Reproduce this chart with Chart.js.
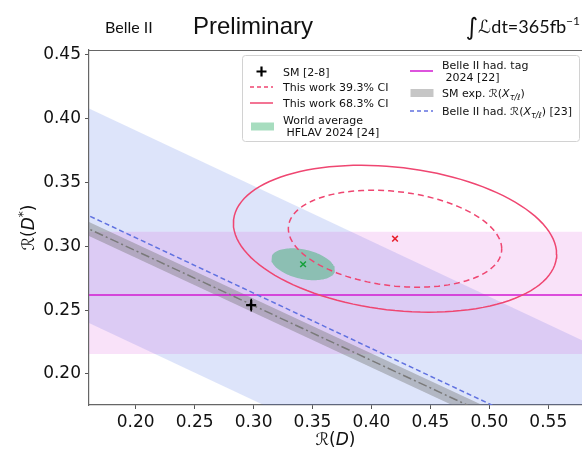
<!DOCTYPE html>
<html>
<head>
<meta charset="utf-8">
<script src="https://cdn.jsdelivr.net/npm/chart.js@4.4.1/dist/chart.umd.min.js"></script>
<style>
  html, body { margin: 0; padding: 0; background: #fff; }
  #wrap { width: 582px; height: 450px; }
</style>
</head>
<body>
<div id="wrap"><canvas id="plot" width="582" height="450"></canvas></div>
<script>
/* ===============================
   DATA
=============================== */
const xLimits = [0.1604, 0.5786];
const yLimits = [0.1757, 0.4539];
const xTicks = [0.20, 0.25, 0.30, 0.35, 0.40, 0.45, 0.50, 0.55];
const yTicks = [0.20, 0.25, 0.30, 0.35, 0.40, 0.45];

// SM prediction (R(D), R(D*)) and its errors
const smPoint = [0.298, 0.254];
const smError = [0.004, 0.005];

// this measurement: centre, sigmas, correlation
const thisWork = [0.420, 0.306];
const thisWorkSigma = [0.0905, 0.038];
const thisWorkRho = -0.21;

// HFLAV 2024 world average
const worldAvg = [0.342, 0.286];
const worldAvgSigma = [0.027, 0.0125];
const worldAvgRho = -0.35;

// Belle II hadronic tag R(D*) with its band
const hadTag = 0.262;
const hadTagBand = [0.2157, 0.3115];

// straight lines in the plane, given at two R(D) values
const lineX = [0.10, 0.60];
const smExpLine = [0.3396, 0.1246];
const smExpHalfWidth = 0.0055;
const rxLine = [0.3502, 0.1332];
const rxHalfWidth = 0.084;

// ellipse scale factors for 39.3% and 68.3% two-dimensional regions
const k393 = 1.0;
const k683 = 1.515;

/* ===============================
   COLOURS
=============================== */
const C = {
  rxBand: 'rgba(65,105,225,0.18)',
  tagBand: 'rgba(214,60,214,0.15)',
  smBand: 'rgba(120,120,120,0.42)',
  smLine: '#7a7a7a',
  rxLine: '#6172e0',
  tagLine: '#d21ad2',
  red: '#ef4671',
  redMark: '#e8202e',
  green: 'rgba(60,179,113,0.5)',
  greenMark: '#15a03a'
};

/* ===============================
   HELPERS
=============================== */
const ellipse = (c, s, rho, k) => {
  const pts = [];
  const r = Math.sqrt(1 - rho * rho);
  for (let i = 0; i <= 120; i++) {
    const t = (i / 120) * 2 * Math.PI;
    const u = Math.cos(t), v = Math.sin(t);
    pts.push({ x: c[0] + k * s[0] * u, y: c[1] + k * s[1] * (rho * u + r * v) });
  }
  return pts;
};

const twoPoints = (ys, shift = 0) => lineX.map((x, i) => ({ x, y: ys[i] + shift }));
const flat = (y) => lineX.map(x => ({ x, y }));

const line = (data, opts) => Object.assign({
  type: 'scatter', data, showLine: true, pointRadius: 0, borderWidth: 1.5,
  tension: 0, fill: false, borderColor: '#000'
}, opts);

/* ===============================
   DATASETS
=============================== */
const datasets = [
  // bands (behind everything)
  line(twoPoints(rxLine, rxHalfWidth), { borderWidth: 0, fill: '+1', backgroundColor: C.rxBand, order: 20 }),
  line(twoPoints(rxLine, -rxHalfWidth), { borderWidth: 0, order: 20 }),
  line(flat(hadTagBand[1]), { borderWidth: 0, fill: '+1', backgroundColor: C.tagBand, order: 19 }),
  line(flat(hadTagBand[0]), { borderWidth: 0, order: 19 }),
  line(twoPoints(smExpLine, smExpHalfWidth), { borderWidth: 0, fill: '+1', backgroundColor: C.smBand, order: 18 }),
  line(twoPoints(smExpLine, -smExpHalfWidth), { borderWidth: 0, order: 18 }),
  // lines
  line(twoPoints(smExpLine), { borderColor: C.smLine, borderDash: [9, 3, 2, 3], order: 8 }),
  line(twoPoints(rxLine), { borderColor: C.rxLine, borderDash: [5, 3], order: 8 }),
  line(flat(hadTag), { borderColor: C.tagLine, order: 8 }),
  // world average region
  line(ellipse(worldAvg, worldAvgSigma, worldAvgRho, k393), { borderWidth: 0, fill: 'shape', backgroundColor: C.green, order: 7 }),
  // this work
  line(ellipse(thisWork, thisWorkSigma, thisWorkRho, k393), { borderColor: C.red, borderDash: [6, 4], order: 4 }),
  line(ellipse(thisWork, thisWorkSigma, thisWorkRho, k683), { borderColor: C.red, order: 4 }),
  // centres
  { type: 'scatter', data: [{ x: worldAvg[0], y: worldAvg[1] }], pointStyle: 'crossRot', pointRadius: 4,
    borderColor: C.greenMark, borderWidth: 1.5, order: 2 },
  { type: 'scatter', data: [{ x: thisWork[0], y: thisWork[1] }], pointStyle: 'crossRot', pointRadius: 4,
    borderColor: C.redMark, borderWidth: 1.5, order: 2 },
  // SM point with error bars
  line([{ x: smPoint[0] - smError[0], y: smPoint[1] }, { x: smPoint[0] + smError[0], y: smPoint[1] }], { borderColor: '#000', borderWidth: 1.5, order: 1 }),
  line([{ x: smPoint[0], y: smPoint[1] - smError[1] }, { x: smPoint[0], y: smPoint[1] + smError[1] }], { borderColor: '#000', borderWidth: 1.5, order: 1 }),
  { type: 'scatter', data: [{ x: smPoint[0], y: smPoint[1] }], pointStyle: 'cross', pointRadius: 5,
    borderColor: '#000', borderWidth: 2.2, order: 1 }
];

/* ===============================
   TEXT HELPERS
=============================== */
const FONT = '"DejaVu Sans", "Noto Sans", sans-serif';

function rich(ctx, x, y, parts) {
  let cx = x;
  for (const p of parts) {
    ctx.font = p.f;
    ctx.fillText(p.t, cx, y + (p.dy || 0));
    cx += ctx.measureText(p.t).width;
  }
  return cx;
}

function richWidth(ctx, parts) {
  let w = 0;
  for (const p of parts) { ctx.font = p.f; w += ctx.measureText(p.t).width; }
  return w;
}

/* ===============================
   DECORATION PLUGIN
=============================== */
const decorations = {
  id: 'decorations',
  afterDraw(chart) {
    const { ctx, chartArea: a } = chart;
    ctx.save();

    // top spine
    ctx.strokeStyle = '#666';
    ctx.lineWidth = 1.2;
    ctx.beginPath();
    ctx.moveTo(a.left, a.top + 0.5);
    ctx.lineTo(a.right, a.top + 0.5);
    ctx.stroke();

    ctx.fillStyle = '#111';
    ctx.textBaseline = 'alphabetic';
    ctx.textAlign = 'left';

    // header
    ctx.font = '16px Lato, ' + FONT;
    ctx.fillText('Belle II', 105, 33);
    ctx.font = '24px "Liberation Sans", Arial, sans-serif';
    ctx.fillText('Preliminary', 313 - ctx.measureText('Preliminary').width, 34);

    const lumi = [
      { t: '\u222B', f: '24px ' + FONT, dy: 2 },
      { t: '\u2112', f: 'italic 18px ' + FONT },
      { t: 'dt=365fb', f: '18px Lato, ' + FONT },
      { t: '\u22121', f: '12px Lato, ' + FONT, dy: -8 }
    ];
    rich(ctx, 580 - richWidth(ctx, lumi), 33, lumi);

    // axis titles
    const xTitle = [
      { t: '\u211B(', f: '17px ' + FONT },
      { t: 'D', f: 'italic 17px ' + FONT },
      { t: ')', f: '17px ' + FONT }
    ];
    const xc = (a.left + a.right) / 2;
    rich(ctx, xc - richWidth(ctx, xTitle) / 2, 445, xTitle);

    const yTitle = [
      { t: '\u211B(', f: '17px ' + FONT },
      { t: 'D', f: 'italic 17px ' + FONT },
      { t: '*', f: '12px ' + FONT, dy: -7 },
      { t: ')', f: '17px ' + FONT }
    ];
    ctx.save();
    ctx.translate(34, (a.top + a.bottom) / 2);
    ctx.rotate(-Math.PI / 2);
    rich(ctx, -richWidth(ctx, yTitle) / 2, 0, yTitle);
    ctx.restore();

    // legend box
    ctx.fillStyle = 'rgba(255,255,255,0.85)';
    ctx.strokeStyle = '#d2d2d2';
    ctx.lineWidth = 1;
    ctx.beginPath();
    ctx.roundRect(242.5, 55.5, 337, 86, 3);
    ctx.fill();
    ctx.stroke();

    const LF = '11px ' + FONT;
    const LI = 'italic 11px ' + FONT;
    const LS = 'italic 8px ' + FONT;
    const seg = (x1, x2, y, color, dash) => {
      ctx.strokeStyle = color;
      ctx.lineWidth = 1.5;
      ctx.setLineDash(dash || []);
      ctx.beginPath();
      ctx.moveTo(x1, y);
      ctx.lineTo(x2, y);
      ctx.stroke();
      ctx.setLineDash([]);
    };
    const txt = (s, x, y) => { ctx.fillStyle = '#111'; ctx.font = LF; ctx.fillText(s, x, y + 4); };

    // left column
    ctx.strokeStyle = '#000';
    ctx.lineWidth = 2.2;
    ctx.beginPath();
    ctx.moveTo(256.5, 71.5); ctx.lineTo(266.5, 71.5);
    ctx.moveTo(261.5, 66.5); ctx.lineTo(261.5, 76.5);
    ctx.stroke();
    txt('SM [2-8]', 283, 71.5);

    seg(250, 273, 87, C.red, [4, 3]);
    txt('This work 39.3% CI', 283, 87);
    seg(250, 273, 103, C.red);
    txt('This work 68.3% CI', 283, 103);

    ctx.fillStyle = 'rgba(60,179,113,0.45)';
    ctx.fillRect(251, 122.5, 23, 8);
    txt('World average', 283, 120);
    txt(' HFLAV 2024 [24]', 283, 131.5);

    // right column
    seg(410, 433, 71, C.tagLine);
    txt('Belle II had. tag', 442, 65);
    txt(' 2024 [22]', 442, 76.5);

    ctx.fillStyle = 'rgba(120,120,120,0.42)';
    ctx.fillRect(410.5, 89, 23, 8);
    ctx.fillStyle = '#111';
    rich(ctx, 442, 97, [
      { t: 'SM exp. \u211B(', f: LF },
      { t: 'X', f: LI },
      { t: '\u03C4/\u2113', f: LS, dy: 2.5 },
      { t: ')', f: LF }
    ]);

    seg(410, 433, 111, C.rxLine, [4, 3]);
    ctx.fillStyle = '#111';
    rich(ctx, 442, 115, [
      { t: 'Belle II had. \u211B(', f: LF },
      { t: 'X', f: LI },
      { t: '\u03C4/\u2113', f: LS, dy: 2.5 },
      { t: ') [23]', f: LF }
    ]);

    ctx.restore();
  }
};

/* ===============================
   CHART
=============================== */
const tickFont = { family: '"DejaVu Sans", sans-serif', size: 17 };

new Chart(document.getElementById('plot'), {
  type: 'scatter',
  data: { datasets },
  options: {
    responsive: false,
    animation: false,
    events: [],
    layout: { autoPadding: false, padding: { top: 50, left: 0, right: 0, bottom: 0 } },
    plugins: { legend: { display: false }, tooltip: { enabled: false } },
    scales: {
      x: {
        type: 'linear',
        min: xLimits[0],
        max: xLimits[1],
        afterBuildTicks: s => { s.ticks = xTicks.map(v => ({ value: v })); },
        afterFit: s => { s.height = 45; s.paddingLeft = 0; s.paddingRight = 0; },
        ticks: { font: tickFont, color: '#111', padding: 3, maxRotation: 0, autoSkip: false,
                 callback: v => v.toFixed(2) },
        grid: { drawOnChartArea: false, tickLength: 4, color: '#555' },
        border: { color: '#666', width: 1.2 }
      },
      y: {
        type: 'linear',
        min: yLimits[0],
        max: yLimits[1],
        afterBuildTicks: s => { s.ticks = yTicks.map(v => ({ value: v })); },
        afterFit: s => { s.width = 89; s.paddingTop = 0; s.paddingBottom = 0; },
        ticks: { font: tickFont, color: '#111', padding: 4, autoSkip: false,
                 callback: v => v.toFixed(2) },
        grid: { drawOnChartArea: false, tickLength: 4, color: '#555' },
        border: { color: '#666', width: 1.2 }
      }
    }
  },
  plugins: [decorations]
});
</script>
</body>
</html>
